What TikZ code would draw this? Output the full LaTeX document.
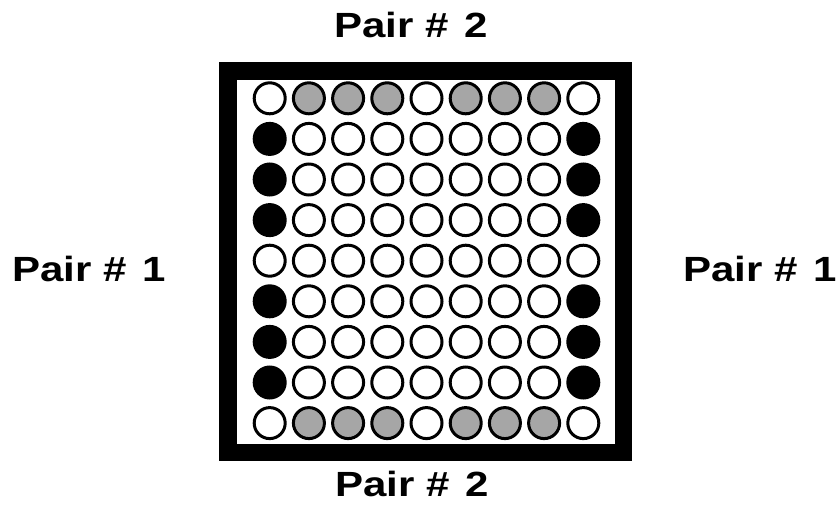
\documentclass[tikz,border=0pt]{standalone}
\usepackage{fontspec}
\newfontfamily\pairfont[FakeStretch=1.2]{Liberation Sans}
\usetikzlibrary{positioning}

\colorlet{pegw}{white}
\colorlet{pegg}{black!35}
\colorlet{pegb}{black}

\tikzset{
    peg/.style={circle, draw=black, line width=3pt, minimum size=31pt,
        inner sep=0pt},
    board/.style={draw=black, line width=17.5pt},
    pairlabel/.style={font=\pairfont\bfseries\fontsize{35}{38}\selectfont,
        inner sep=0pt, anchor=base},
}

\begin{document}
\begin{tikzpicture}[x=1pt, y=-1pt]
    \useasboundingbox (0,0) rectangle (840,508);

    % frame
    \draw[board] (228,71) rectangle (623.5,452.5);

    % pegs, one row per list
    \foreach \row [count=\j from 0] in {
        {w,g,g,g,w,g,g,g,w},
        {b,w,w,w,w,w,w,w,b},
        {b,w,w,w,w,w,w,w,b},
        {b,w,w,w,w,w,w,w,b},
        {w,w,w,w,w,w,w,w,w},
        {b,w,w,w,w,w,w,w,b},
        {b,w,w,w,w,w,w,w,b},
        {b,w,w,w,w,w,w,w,b},
        {w,g,g,g,w,g,g,g,w}} {
        \foreach \c [count=\i from 0] in \row {
            \node[peg, fill=peg\c] (d-\j-\i)
                at ({269.7+39.2*\i}, {98.3+40.6*\j}) {};
        }
    }

    % labels
    \node[pairlabel] (top) at (411,38) {Pair \#\hspace{4pt} 2};
    \node[pairlabel] (bottom) at (412,496) {Pair \#\hspace{4pt} 2};
    \node[pairlabel] (left) at (89,281) {Pair \#\hspace{4pt} 1};
    \node[pairlabel] (right) at (760,281) {Pair \#\hspace{4pt} 1};
\end{tikzpicture}
\end{document}
